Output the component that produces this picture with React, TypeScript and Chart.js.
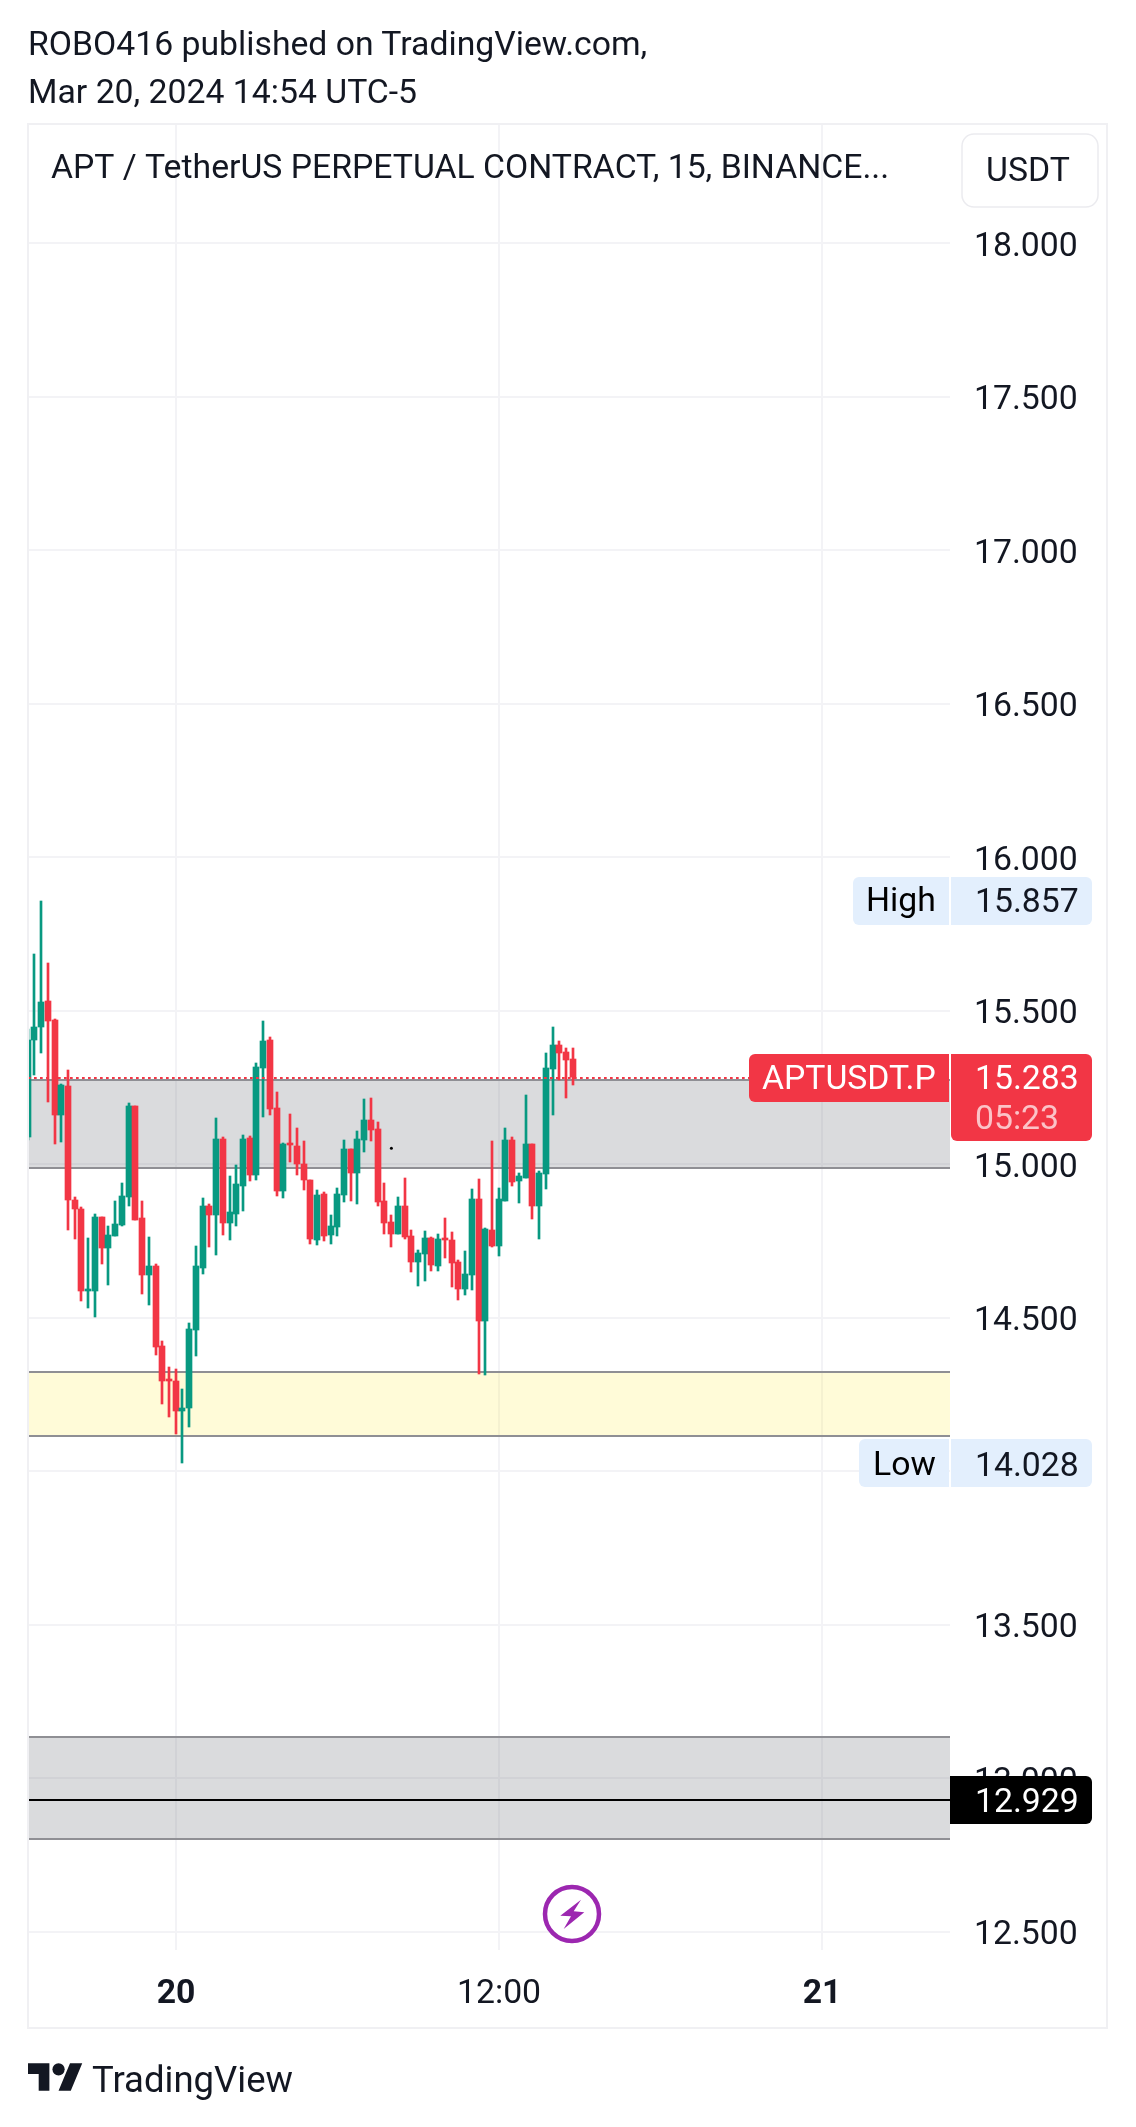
import { useEffect, useRef } from "react";
import { Chart, registerables } from "chart.js";

Chart.register(...registerables);

// bar number 0 is the first 15m candle of the 20th
const firstBar = -22;

const opens = [
  15.089, 15.405, 15.447, 15.531, 15.469, 15.16, 15.254, 14.884, 14.854, 14.588, 14.588, 14.828, 14.728, 14.766,
  14.802, 14.894, 15.19, 14.826, 14.639, 14.669, 14.409, 14.3, 14.292, 14.195, 14.204, 14.46, 14.662, 14.864, 14.835,
  15.082, 14.809, 14.838, 14.93, 15.086, 14.965, 15.313, 15.405, 15.183, 14.913, 15.068, 15.06, 15.001, 14.949, 14.754,
  14.903, 14.769, 14.795, 14.9, 15.049, 14.971, 15.079, 15.144, 15.115, 14.88, 14.812, 14.773, 14.864, 14.766, 14.681,
  14.707, 14.759, 14.668, 14.759, 14.753, 14.681, 14.593, 14.639, 14.887, 14.489, 14.786, 14.733, 14.88, 15.079, 14.945,
  14.955, 15.066, 14.864, 14.968, 15.31, 15.388, 15.365, 15.343,
];
const highs = [
  15.441, 15.684, 15.857, 15.656, 15.473, 15.261, 15.307, 14.894, 14.86, 14.76, 14.838, 14.828, 14.799, 14.881, 14.939,
  15.199, 15.19, 14.881, 14.764, 14.675, 14.425, 14.34, 14.334, 14.268, 14.481, 14.734, 14.89, 14.871, 15.151, 15.088,
  14.962, 14.998, 15.096, 15.092, 15.329, 15.467, 15.414, 15.235, 15.068, 15.164, 15.118, 15.075, 14.949, 14.916,
  14.909, 14.834, 14.922, 15.079, 15.049, 15.108, 15.212, 15.216, 15.137, 14.939, 14.834, 14.893, 14.955, 14.786, 14.72,
  14.782, 14.763, 14.773, 14.825, 14.779, 14.688, 14.717, 14.919, 14.952, 14.792, 15.075, 14.922, 15.118, 15.088,
  14.971, 15.225, 15.066, 14.978, 15.362, 15.447, 15.401, 15.378, 15.378,
];
const lows = [
  15.08, 15.289, 15.362, 15.203, 15.066, 15.073, 14.786, 14.756, 14.555, 14.532, 14.503, 14.675, 14.607, 14.766, 14.799,
  14.864, 14.819, 14.577, 14.542, 14.379, 14.219, 14.176, 14.12, 14.028, 14.145, 14.376, 14.643, 14.73, 14.705, 14.77,
  14.754, 14.799, 14.847, 14.945, 14.949, 15.154, 15.16, 14.896, 14.89, 15.007, 14.965, 14.916, 14.741, 14.737, 14.75,
  14.74, 14.766, 14.877, 14.88, 14.87, 15.04, 15.075, 14.864, 14.773, 14.73, 14.773, 14.756, 14.649, 14.603, 14.619,
  14.652, 14.652, 14.694, 14.6, 14.558, 14.574, 14.59, 14.316, 14.313, 14.73, 14.701, 14.88, 14.929, 14.873, 14.955,
  14.821, 14.756, 14.919, 15.16, 15.274, 15.216, 15.258,
];
const closes = [
  15.405, 15.447, 15.528, 15.467, 15.16, 15.258, 14.884, 14.854, 14.588, 14.594, 14.828, 14.728, 14.77, 14.805, 14.896,
  15.19, 14.819, 14.639, 14.669, 14.405, 14.292, 14.294, 14.195, 14.207, 14.464, 14.669, 14.864, 14.835, 15.082, 14.809,
  14.845, 14.936, 15.082, 14.965, 15.316, 15.401, 15.18, 14.913, 15.064, 15.061, 15.001, 14.949, 14.756, 14.9, 14.766,
  14.799, 14.903, 15.049, 14.971, 15.082, 15.144, 15.111, 14.877, 14.808, 14.773, 14.864, 14.763, 14.681, 14.711,
  14.759, 14.672, 14.756, 14.753, 14.678, 14.593, 14.642, 14.887, 14.489, 14.789, 14.733, 14.887, 15.079, 14.942,
  14.961, 15.066, 14.864, 14.971, 15.313, 15.388, 15.362, 15.339, 15.283,
];

const priceTicks = [12.5, 13, 13.5, 14, 14.5, 15, 15.5, 16, 16.5, 17, 17.5, 18];
const timeTicks = [0, 48, 96];
const timeLabels = ["20", "12:00", "21"];
const boldTimeLabels = ["20", "21"];

const grayZones = [
  [14.989, 15.274],
  [12.8, 13.135],
];
const yellowZones = [[14.113, 14.324]];

const lastPrice = 15.283;
const sessionHigh = 15.857;
const sessionLow = 14.028;
const markedPrice = 12.929;
const strayDot = { x: 32, y: 15.052 };
const ideaBar = 59;

const UP = "#089981";
const DOWN = "#f23645";
const INK = "#131722";
const FONT = "Roboto, sans-serif";
const FONT_SIZE = 33.75;

const badge = (
  ctx: CanvasRenderingContext2D,
  x: number,
  y: number,
  w: number,
  h: number,
  radii: number[],
  fill: string
) => {
  ctx.fillStyle = fill;
  ctx.beginPath();
  ctx.roundRect(x, y, w, h, radii);
  ctx.fill();
};

// middle baseline sits a little high for digits, hence the +4
const label = (ctx: CanvasRenderingContext2D, text: string, x: number, y: number, color: string) => {
  ctx.fillStyle = color;
  ctx.font = `${FONT_SIZE}px ${FONT}`;
  ctx.textAlign = "left";
  ctx.textBaseline = "middle";
  ctx.fillText(text, x, y + 4);
};

// snap candles to whole pixels, the original is drawn crisp
const snapBars = {
  id: "snapBars",
  afterDatasetsUpdate(chart: any) {
    chart.getSortedVisibleDatasetMetas().forEach((meta: any) => {
      if (meta.type !== "bar") return;
      meta.data.forEach((el: any) => {
        el.x = Math.round(el.x - 0.3);
        el.y = Math.round(el.y);
        el.base = Math.round(el.base);
      });
    });
  },
};

const zones = {
  id: "zones",
  beforeDatasetsDraw(chart: any) {
    const { ctx, chartArea, scales } = chart;
    const drawZone = ([lo, hi]: number[], fill: string) => {
      const top = Math.round(scales.y.getPixelForValue(hi));
      const bottom = Math.round(scales.y.getPixelForValue(lo));
      ctx.fillStyle = fill;
      ctx.fillRect(chartArea.left, top, chartArea.width, bottom - top);
      ctx.fillStyle = "#8f8f94";
      ctx.fillRect(chartArea.left, top - 1, chartArea.width, 2);
      ctx.fillRect(chartArea.left, bottom - 1, chartArea.width, 2);
    };
    ctx.save();
    grayZones.forEach((z) => drawZone(z, "rgba(120,123,130,0.27)"));
    yellowZones.forEach((z) => drawZone(z, "rgba(255,235,59,0.2)"));
    ctx.restore();
  },
};

const overlays = {
  id: "overlays",
  afterDatasetsDraw(chart: any) {
    const { ctx, chartArea, scales } = chart;
    const y = scales.y;
    const right = chartArea.right + 1;
    const valueX = 975;
    const boxEnd = 1092;
    ctx.save();

    // last price dots run up to the symbol label
    const lastY = Math.round(y.getPixelForValue(lastPrice));
    ctx.strokeStyle = DOWN;
    ctx.lineWidth = 2;
    ctx.setLineDash([2.7, 3.3]);
    ctx.beginPath();
    ctx.moveTo(chartArea.left, lastY + 1);
    ctx.lineTo(chartArea.right, lastY + 1);
    ctx.stroke();
    ctx.setLineDash([]);

    // marked level
    const markY = Math.round(y.getPixelForValue(markedPrice));
    ctx.fillStyle = "#000000";
    ctx.fillRect(chartArea.left, markY - 1, chartArea.width, 2);
    badge(ctx, chartArea.right, markY - 24, boxEnd - chartArea.right, 48, [0, 6, 6, 0], "#000000");
    label(ctx, markedPrice.toFixed(3), valueX, markY, "#ffffff");

    // high and low
    [
      { name: "High", price: sessionHigh, left: 853, textX: 866, nudge: -1 },
      { name: "Low", price: sessionLow, left: 859, textX: 873, nudge: 1 },
    ].forEach((m) => {
      const py = Math.round(y.getPixelForValue(m.price));
      badge(ctx, m.left, py - 24, 949 - m.left, 48, [6, 0, 0, 6], "#e3effd");
      badge(ctx, right, py - 24, boxEnd - right, 48, [0, 6, 6, 0], "#e3effd");
      label(ctx, m.name, m.textX, py + m.nudge - 1, "#000000");
      label(ctx, m.price.toFixed(3), valueX, py + m.nudge, INK);
    });

    // last price label with countdown
    badge(ctx, 749, lastY - 23, 200, 48, [6, 0, 0, 6], DOWN);
    badge(ctx, right, lastY - 23, boxEnd - right, 87, [0, 6, 6, 6], DOWN);
    label(ctx, "APTUSDT.P", 762, lastY, "#ffffff");
    label(ctx, lastPrice.toFixed(3), valueX, lastY, "#ffffff");
    label(ctx, "05:23", valueX, lastY + 40, "rgba(255,255,255,0.7)");

    // idea marker under the last candle
    const cx = Math.round(scales.x.getPixelForValue(ideaBar)) - 1;
    const cy = 1914;
    ctx.fillStyle = "#ffffff";
    ctx.strokeStyle = "#9c27b0";
    ctx.lineWidth = 4.5;
    ctx.beginPath();
    ctx.arc(cx, cy, 27, 0, Math.PI * 2);
    ctx.fill();
    ctx.stroke();
    ctx.fillStyle = "#9c27b0";
    ctx.beginPath();
    ctx.moveTo(cx + 9, cy - 14.3);
    ctx.lineTo(cx - 11.7, cy + 1.7);
    ctx.lineTo(cx - 1, cy + 2.3);
    ctx.lineTo(cx - 8.3, cy + 15);
    ctx.lineTo(cx + 12.3, cy - 1.7);
    ctx.lineTo(cx + 1.7, cy - 2.7);
    ctx.closePath();
    ctx.fill();

    // title and currency button
    ctx.fillStyle = "#ffffff";
    ctx.strokeStyle = "#ebebef";
    ctx.lineWidth = 1.5;
    ctx.beginPath();
    ctx.roundRect(962, 134, 136, 73, 12);
    ctx.fill();
    ctx.stroke();
    label(ctx, "USDT", 986, 169, INK);
    label(ctx, "APT / TetherUS PERPETUAL CONTRACT, 15, BINANCE...", 51, 166, INK);

    ctx.restore();
  },
};

export default function App() {
  const canvasRef = useRef<HTMLCanvasElement | null>(null);

  useEffect(() => {
    if (!canvasRef.current) return;
    const xs = opens.map((_, i) => firstBar + i);
    const colors = opens.map((o, i) => (closes[i] >= o ? UP : DOWN));

    const chart = new Chart(canvasRef.current, {
      type: "bar",
      data: {
        datasets: [
          {
            type: "scatter",
            data: [strayDot],
            pointRadius: 1.5,
            pointBackgroundColor: "#000000",
            pointBorderWidth: 0,
          } as any,
          {
            label: "body",
            data: xs.map((x, i) => ({ x, y: [opens[i], closes[i]] })),
            backgroundColor: colors,
            barThickness: 6,
            minBarLength: 2,
            grouped: false,
          } as any,
          {
            label: "wick",
            data: xs.map((x, i) => ({ x, y: [lows[i], highs[i]] })),
            backgroundColor: colors,
            barThickness: 2,
            grouped: false,
          } as any,
        ],
      },
      options: {
        animation: false,
        responsive: false,
        devicePixelRatio: 1,
        layout: { padding: { left: 28, top: 125, right: 28, bottom: 98 } },
        plugins: { legend: { display: false }, tooltip: { enabled: false } },
        scales: {
          x: {
            type: "linear",
            offset: false,
            min: -21.99,
            max: 115.0,
            afterBuildTicks: (scale: any) => {
              scale.ticks = timeTicks.map((value) => ({ value }));
            },
            afterFit: (scale: any) => {
              scale.height = 79;
            },
            grid: { color: "#f3f3f6", lineWidth: 2, drawTicks: false, offset: false },
            border: { display: false },
            ticks: {
              maxRotation: 0,
              autoSkip: false,
              padding: 24,
              color: INK,
              font: (ctx: any) => {
                const text = timeLabels[timeTicks.indexOf(ctx.tick?.value)];
                return {
                  family: FONT,
                  size: FONT_SIZE,
                  weight: boldTimeLabels.includes(text) ? "bold" : "normal",
                };
              },
              callback: (value: any) => timeLabels[timeTicks.indexOf(Number(value))],
            },
          },
          y: {
            position: "right",
            min: 12.44,
            max: 18.385,
            afterBuildTicks: (scale: any) => {
              scale.ticks = priceTicks.map((value) => ({ value }));
            },
            afterFit: (scale: any) => {
              scale.width = 158;
            },
            grid: { color: "#f3f3f6", lineWidth: 2, drawTicks: false },
            border: { display: false },
            ticks: {
              padding: 24,
              labelOffset: 4,
              color: INK,
              font: { family: FONT, size: FONT_SIZE },
              callback: (value: any) => Number(value).toFixed(3),
            },
          },
        },
      },
      plugins: [snapBars, zones, overlays],
    } as any);

    return () => {
      chart.destroy();
    };
  }, []);

  const textStyle: React.CSSProperties = {
    position: "absolute",
    left: 28,
    fontFamily: FONT,
    fontSize: FONT_SIZE,
    color: INK,
    whiteSpace: "nowrap",
    lineHeight: "48px",
  };

  return (
    <div style={{ position: "absolute", left: 0, top: 0, width: 1136, height: 2127, background: "#ffffff", overflow: "hidden" }}>
      <canvas ref={canvasRef} width={1136} height={2127} style={{ position: "absolute", left: 0, top: 0, display: "block" }} />
      <div
        style={{
          position: "absolute",
          left: 27,
          top: 123,
          width: 1077,
          height: 1902,
          border: "2px solid #f0f0f3",
          pointerEvents: "none",
        }}
      />
      <div style={{ ...textStyle, top: 20 }}>ROBO416 published on TradingView.com,</div>
      <div style={{ ...textStyle, top: 68 }}>Mar 20, 2024 14:54 UTC-5</div>
      <svg style={{ position: "absolute", left: 28, top: 2057 }} width={55} height={43} viewBox="0 0 36 28">
        <path d="M14 22H7V11H0V4h14v18zM28 22h-8l7.5-18h8L28 22z" fill={INK} />
        <circle cx={20} cy={8} r={4} fill={INK} />
      </svg>
      <div style={{ ...textStyle, left: 92, top: 2056, fontSize: 36.5 }}>TradingView</div>
    </div>
  );
}
